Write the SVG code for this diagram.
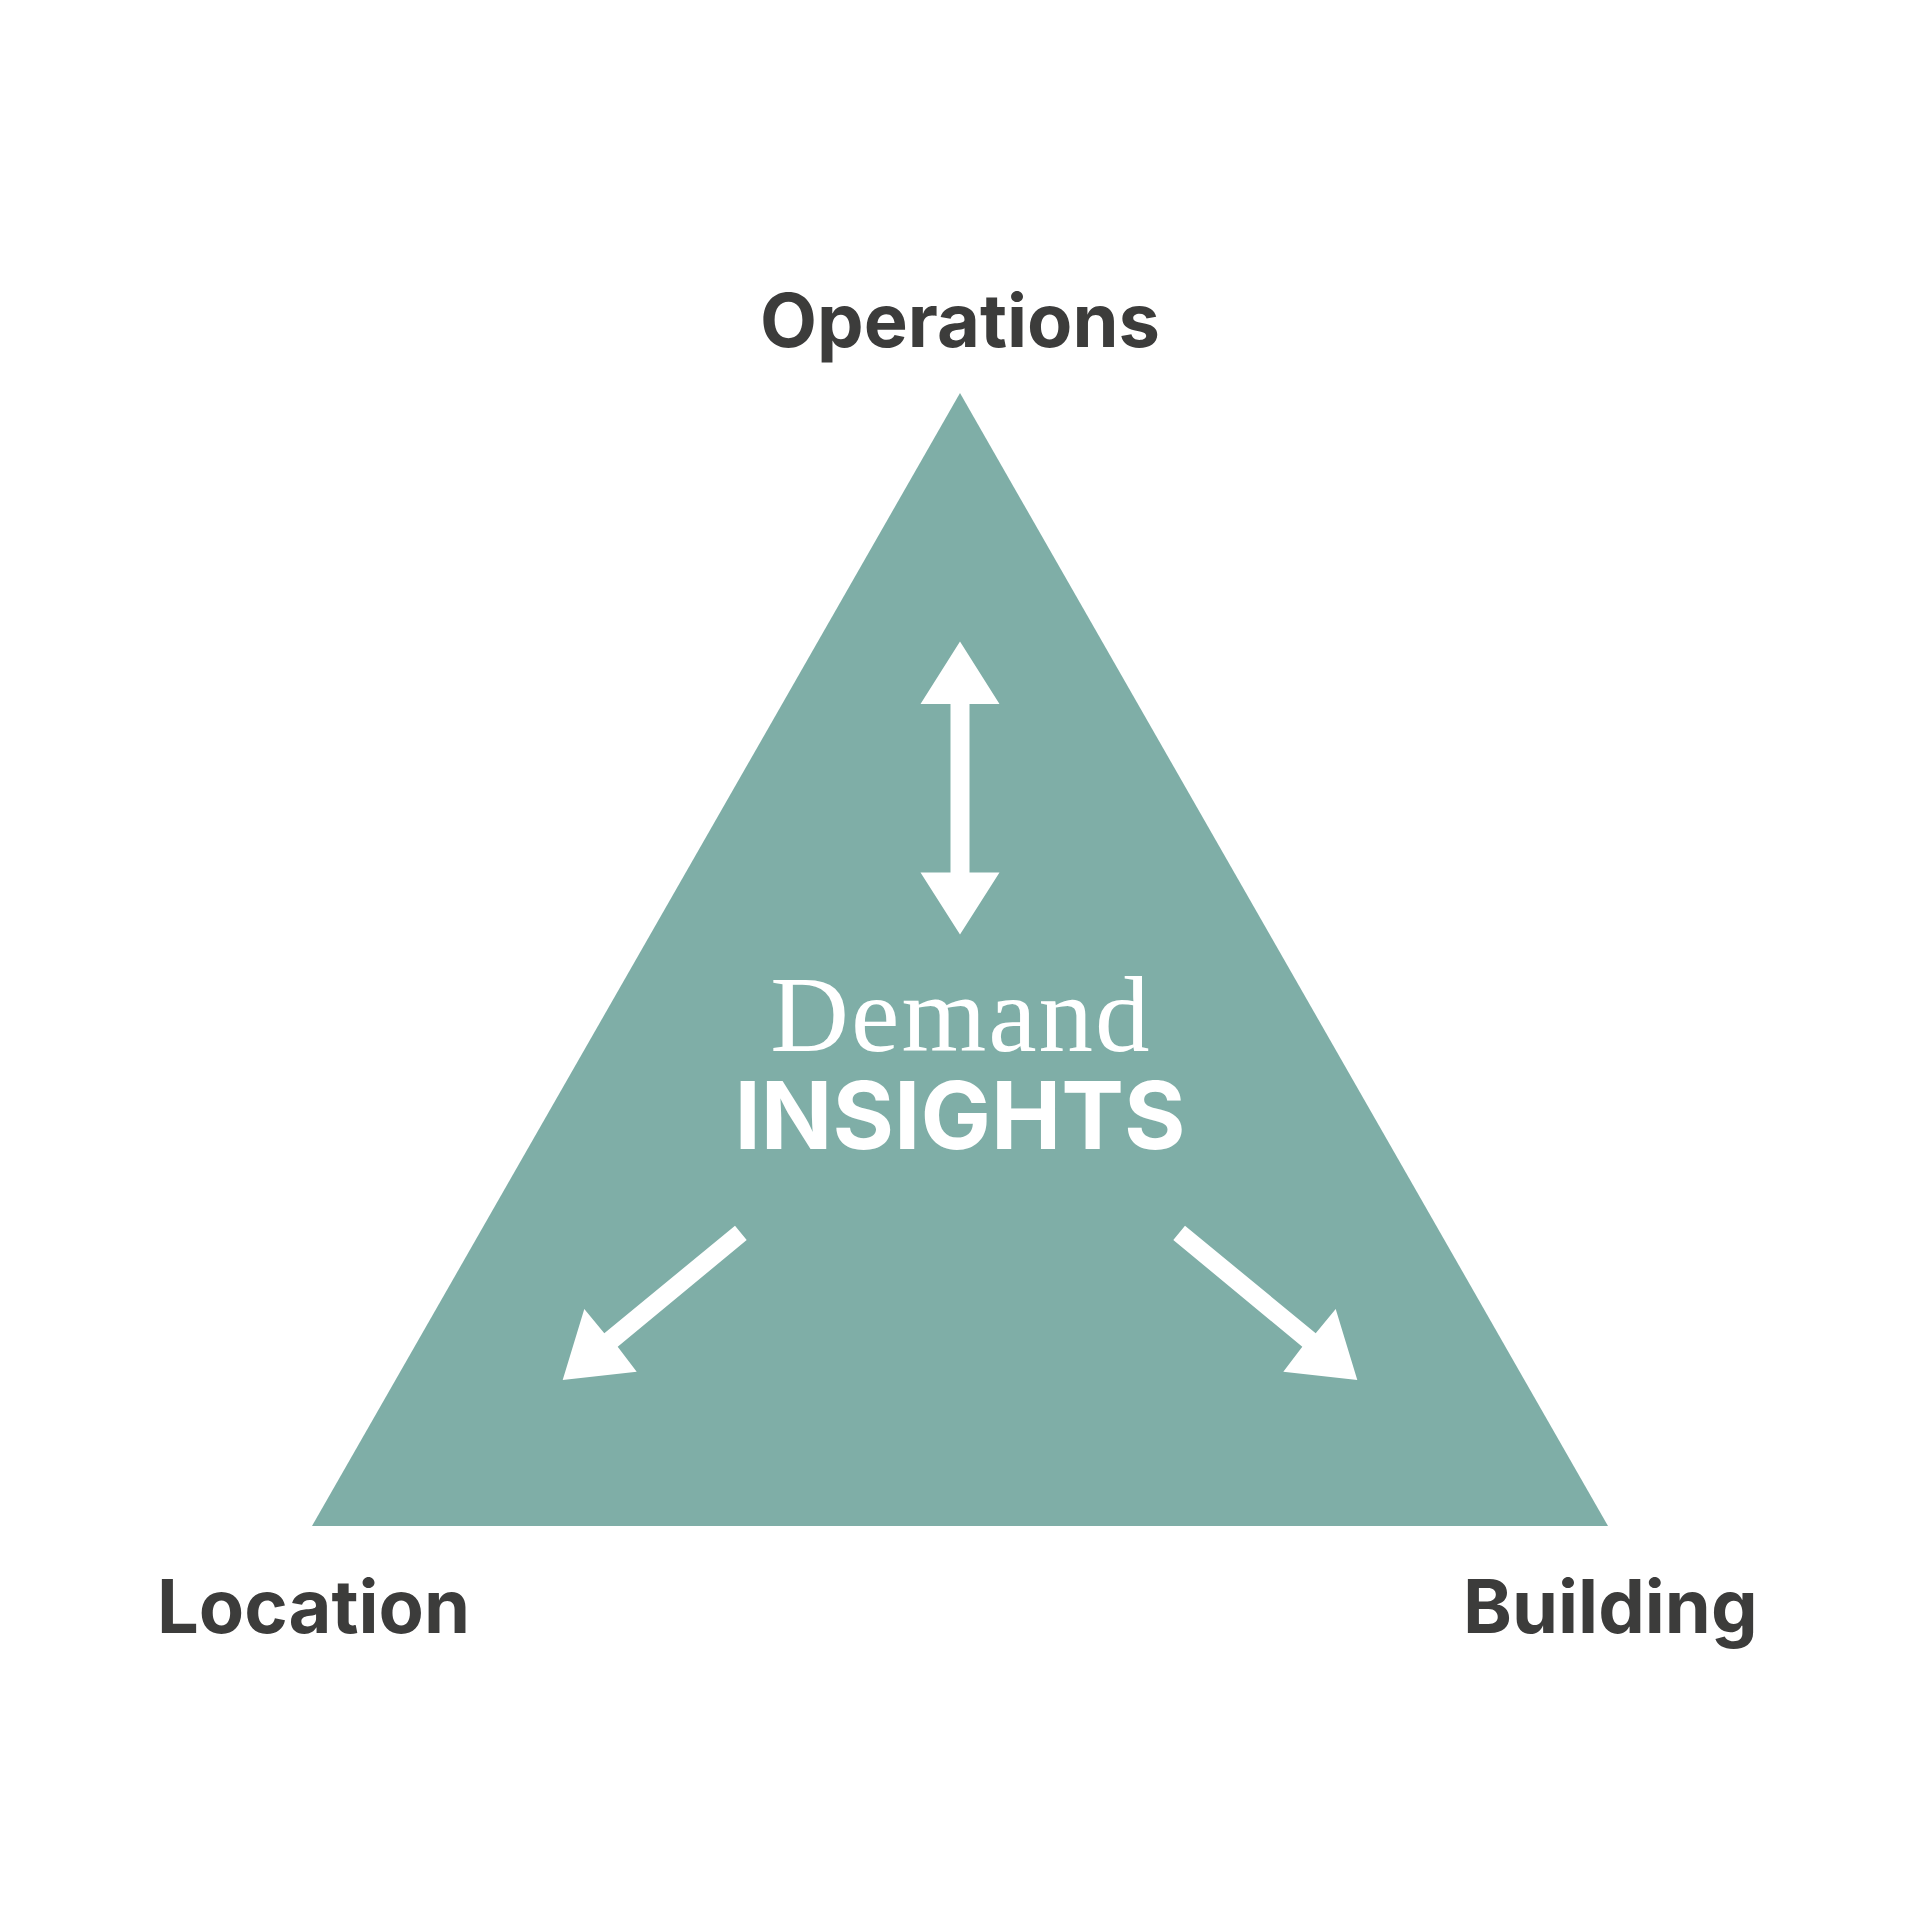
<svg xmlns="http://www.w3.org/2000/svg" width="1920" height="1920" viewBox="0 0 1920 1920">
<style>
.lbl{font-family:Inter,"Liberation Sans",sans-serif;font-weight:700;font-size:74px;fill:#3c3c3b}
.arw{fill:#ffffff}
</style>
<rect width="1920" height="1920" fill="#ffffff"/>
<g id="triangle">
<polygon points="960,393 312,1526 1608,1526" fill="#7faea7"/>
</g>
<g id="center">
<text x="961" y="1050.5" text-anchor="middle" font-family="'Liberation Serif',serif" font-size="109" letter-spacing="2" fill="#ffffff">Demand</text>
<text x="960" y="1148.5" text-anchor="middle" font-family="Inter,'Liberation Sans',sans-serif" font-weight="700" font-size="94" fill="#ffffff">INSIGHTS</text>
</g>
<g id="operations"><text class="lbl" x="960" y="347" text-anchor="middle">Operations</text></g>
<g id="location"><text class="lbl" x="157" y="1633">Location</text></g>
<g id="building"><text class="lbl" x="1463" y="1633">Building</text></g>
<g id="connectors">
<polygon class="arw" points="960,641.5 999.5,704 969.5,704 969.5,872.5 999.5,872.5 960,934.5 920.5,872.5 950.5,872.5 950.5,704 920.5,704"/>
<polygon class="arw" points="746.7,1240 617.7,1346.7 636.7,1371.7 562.7,1380 584.3,1309 604.3,1333.3 735,1225.7"/>
<polygon class="arw" points="1173.3,1240 1302.3,1346.7 1283.3,1371.7 1357.3,1380 1335.7,1309 1315.7,1333.3 1185,1225.7"/>
</g>
</svg>
